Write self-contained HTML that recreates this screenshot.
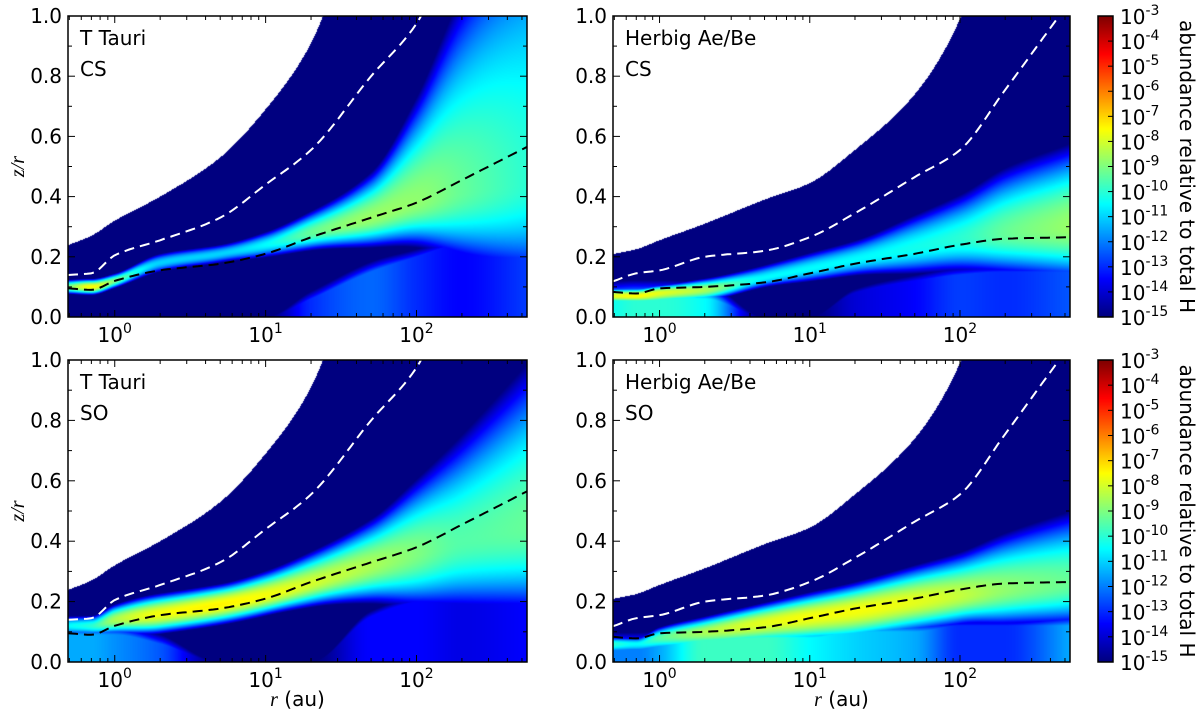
<!DOCTYPE html>
<html><head><meta charset="utf-8"><style>
body{margin:0;background:#fff;width:1200px;height:719px;overflow:hidden;position:relative;font-family:"DejaVu Sans","Liberation Sans",sans-serif}
canvas{position:absolute}
svg{position:absolute;left:0;top:0}
</style></head><body>
<canvas id="c0" width="459" height="301" style="left:68px;top:16px"></canvas>
<canvas id="c1" width="457" height="301" style="left:613px;top:16px"></canvas>
<canvas id="c2" width="459" height="302" style="left:68px;top:360px"></canvas>
<canvas id="c3" width="457" height="302" style="left:613px;top:360px"></canvas>
<canvas id="cb0" width="15" height="301" style="left:1098px;top:16px"></canvas>
<canvas id="cb1" width="15" height="302" style="left:1098px;top:360px"></canvas>
<svg id="ov" width="1200" height="719"></svg>
<script>
// radial nodes (au)
const rNodes=[0.5,0.7,1,2,5,10,20,50,100,200,540];
// white (no-data) boundary z/r
const ttEdge=[0.24,0.27,0.32,0.40,0.53,0.69,0.91,1.5,2,2,2];
const hEdge=[0.21,0.225,0.255,0.31,0.39,0.445,0.555,0.74,0.99,1.5,2];
// dashed contours
const ttWhite=[0.14,0.145,0.205,0.255,0.33,0.44,0.555,0.80,0.975,1.3,1.6];
const hWhite=[0.12,0.145,0.155,0.20,0.22,0.265,0.345,0.465,0.555,0.755,1.05];
const ttBlack=[0.095,0.09,0.12,0.155,0.177,0.21,0.265,0.33,0.38,0.455,0.565];
const hBlack=[0.083,0.078,0.095,0.10,0.115,0.145,0.177,0.21,0.24,0.26,0.265];
// T Tauri CS abundance band (log10)
const ttcsCenter=[0.10,0.10,0.12,0.18,0.21,0.24,0.28,0.33,0.38,0.42,0.45];
const ttcsWUp=[0.02,0.02,0.02,0.03,0.03,0.04,0.06,0.12,0.28,0.55,0.9];
const ttcsWDn=[0.02,0.02,0.02,0.03,0.03,0.04,0.05,0.08,0.12,0.2,0.3];
const ttcsPeak=[-9,-7.5,-9,-11,-11,-10.5,-9.3,-8.7,-8.8,-9.3,-10];
const ttcsLow=[-15,-15,-15,-15,-15,-15,-13,-12.3,-13,-13.5,-12.8];
const ttcsLowTop=[0,0,0,0,0,0,0.06,0.15,0.2,0.25,0.3];
// Herbig CS
const hcsCenter=[0.07,0.07,0.08,0.09,0.13,0.16,0.19,0.23,0.26,0.28,0.30];
const hcsWUp=[0.02,0.02,0.02,0.03,0.04,0.05,0.06,0.1,0.13,0.18,0.22];
const hcsWDn=[0.02,0.02,0.03,0.03,0.03,0.04,0.05,0.08,0.1,0.12,0.15];
const hcsPeak=[-7.8,-7.5,-7.8,-8.5,-10.5,-10.5,-10.5,-10.3,-10,-9.3,-8.7];
const hcsLow=[-10.3,-10,-10,-10.5,-15,-15,-14,-13.5,-12.8,-13,-12.5];
const hcsLowTop=[0.06,0.06,0.06,0.06,0,0,0.08,0.12,0.14,0.15,0.15];
// T Tauri SO
const ttsoCenter=[0.12,0.12,0.14,0.16,0.19,0.22,0.26,0.32,0.36,0.40,0.45];
const ttsoWUp=[0.03,0.03,0.04,0.05,0.05,0.06,0.08,0.12,0.2,0.3,0.45];
const ttsoWDn=[0.03,0.03,0.04,0.05,0.05,0.05,0.06,0.1,0.15,0.2,0.25];
const ttsoPeak=[-10.5,-10,-8.5,-7.6,-7.4,-7.6,-8,-8.5,-9,-9.5,-9.3];
const ttsoLow=[-11.5,-11.5,-11.8,-12.5,-15,-15,-15,-13.5,-13.5,-13.8,-13.5];
const ttsoLowTop=[0.09,0.09,0.09,0.06,0,0,0,0.15,0.2,0.22,0.25];
// Herbig SO
const hsoCenter=[0.06,0.06,0.08,0.10,0.13,0.15,0.17,0.20,0.22,0.24,0.26];
const hsoWUp=[0.02,0.02,0.03,0.04,0.05,0.06,0.07,0.09,0.11,0.15,0.2];
const hsoWDn=[0.03,0.03,0.04,0.05,0.06,0.07,0.08,0.08,0.08,0.1,0.12];
const hsoPeak=[-10,-10.5,-9.5,-8.5,-7.8,-7.6,-7.6,-7.8,-8.2,-8.8,-9.3];
const hsoLow=[-12,-12,-11.5,-9.8,-9.8,-10.5,-11,-11.5,-13,-13,-11.5];
const hsoLowTop=[0.06,0.06,0.06,0.07,0.08,0.08,0.1,0.1,0.12,0.12,0.12];
// colorbar exponents
const cbTicks=[-3,-4,-5,-6,-7,-8,-9,-10,-11,-12,-13,-14,-15];
const yTicks=[0,0.2,0.4,0.6,0.8,1.0];
const xTicks=[0,1,2];

const RMIN=0.49,RMAX=540,VMIN=-15,VMAX=-3;
const panels=[
 {id:'c0',x:68,y:16,w:459,h:301,edge:ttEdge,wl:ttWhite,bl:ttBlack,c:ttcsCenter,wu:ttcsWUp,wd:ttcsWDn,p:ttcsPeak,lo:ttcsLow,lt:ttcsLowTop,star:'T Tauri',mol:'CS',yl:true,xl:false,name:'ttauri-cs'},
 {id:'c1',x:613,y:16,w:457,h:301,edge:hEdge,wl:hWhite,bl:hBlack,c:hcsCenter,wu:hcsWUp,wd:hcsWDn,p:hcsPeak,lo:hcsLow,lt:hcsLowTop,star:'Herbig Ae/Be',mol:'CS',yl:false,xl:false,name:'herbig-cs'},
 {id:'c2',x:68,y:360,w:459,h:302,edge:ttEdge,wl:ttWhite,bl:ttBlack,c:ttsoCenter,wu:ttsoWUp,wd:ttsoWDn,p:ttsoPeak,lo:ttsoLow,lt:ttsoLowTop,star:'T Tauri',mol:'SO',yl:true,xl:true,name:'ttauri-so'},
 {id:'c3',x:613,y:360,w:457,h:302,edge:hEdge,wl:hWhite,bl:hBlack,c:hsoCenter,wu:hsoWUp,wd:hsoWDn,p:hsoPeak,lo:hsoLow,lt:hsoLowTop,star:'Herbig Ae/Be',mol:'SO',yl:false,xl:true,name:'herbig-so'}
];
const L0=Math.log10(RMIN),L1=Math.log10(RMAX);
const lN=rNodes.map(r=>Math.log10(r));
// monotone cubic (PCHIP) interpolation in log r
function slopes(arr){
  const n=arr.length,d=[],m=new Array(n);
  for(let i=0;i<n-1;i++)d.push((arr[i+1]-arr[i])/(lN[i+1]-lN[i]));
  m[0]=d[0];m[n-1]=d[n-2];
  for(let i=1;i<n-1;i++){ if(d[i-1]*d[i]<=0)m[i]=0; else { const w1=2*(lN[i+1]-lN[i])+(lN[i]-lN[i-1]),w2=(lN[i+1]-lN[i])+2*(lN[i]-lN[i-1]); m[i]=(w1+w2)/(w1/d[i-1]+w2/d[i]); } }
  return m;
}
const slopeCache=new Map();
function interp(arr,lr){
  let m=slopeCache.get(arr); if(!m){m=slopes(arr);slopeCache.set(arr,m);}
  if(lr<=lN[0])return arr[0]+m[0]*(lr-lN[0]);
  const n=lN.length;
  if(lr>=lN[n-1])return arr[n-1]+m[n-1]*(lr-lN[n-1]);
  let i=1;while(lr>lN[i])i++;
  const h=lN[i]-lN[i-1],t=(lr-lN[i-1])/h,t2=t*t,t3=t2*t;
  return (2*t3-3*t2+1)*arr[i-1]+(t3-2*t2+t)*h*m[i-1]+(-2*t3+3*t2)*arr[i]+(t3-t2)*h*m[i];
}
function jet(t){t=Math.max(0,Math.min(1,t));const cl=v=>Math.max(0,Math.min(1,v));
 return [cl(1.5-Math.abs(4*t-3))*255,cl(1.5-Math.abs(4*t-2))*255,cl(1.5-Math.abs(4*t-1))*255];}
function xScale(P,r){return P.x+(Math.log10(r)-L0)/(L1-L0)*P.w;}
function yScale(P,z){return P.y+P.h-z*P.h;}

panels.forEach(P=>{
  const cv=document.getElementById(P.id),ctx=cv.getContext('2d');
  const img=ctx.createImageData(P.w,P.h);
  for(let i=0;i<P.w;i++){
    const lr=L0+(i+0.5)/P.w*(L1-L0);
    const e=interp(P.edge,lr),c=interp(P.c,lr),wu=Math.max(0.01,interp(P.wu,lr)),wd=Math.max(0.01,interp(P.wd,lr)),pk=interp(P.p,lr),lo=interp(P.lo,lr),lt=interp(P.lt,lr);
    for(let j=0;j<P.h;j++){
      const z=1-(j+0.5)/P.h;const k=(j*P.w+i)*4;
      if(z>e){img.data[k]=img.data[k+1]=img.data[k+2]=255;img.data[k+3]=255;continue;}
      const d=z-c;const band=pk-4*Math.pow(d/(d>0?wu:wd),2);
      const low=z<lt?lo:lo-(z-lt)*80;
      const v=Math.max(band,low,VMIN);
      const col=jet((v-VMIN)/(VMAX-VMIN));
      img.data[k]=col[0];img.data[k+1]=col[1];img.data[k+2]=col[2];img.data[k+3]=255;
    }
  }
  ctx.putImageData(img,0,0);
});
['cb0','cb1'].forEach(id=>{
  const cv=document.getElementById(id),ctx=cv.getContext('2d');
  for(let j=0;j<cv.height;j++){const c=jet(1-j/(cv.height-1));ctx.fillStyle=`rgb(${c[0]|0},${c[1]|0},${c[2]|0})`;ctx.fillRect(0,j,cv.width,1);}
});

const NS='http://www.w3.org/2000/svg';
const svg=document.getElementById('ov');
function mk(tag,attrs,parent){const e=document.createElementNS(NS,tag);for(const k in attrs)e.setAttribute(k,attrs[k]);(parent||svg).appendChild(e);return e;}
function powText(x,y,exp,anchor,parent){
  const t=mk('text',{x:x,y:y,'font-size':20,'text-anchor':anchor,fill:'#000'},parent);
  t.appendChild(document.createTextNode('10'));
  const s=mk('tspan',{dy:-9,'font-size':14},t);s.textContent=String(exp);
  return t;
}
const defs=mk('defs',{});
panels.forEach((P,pi)=>{
  const g=mk('g',{});
  
  
  const cp=mk('clipPath',{id:'cp'+pi},defs);mk('rect',{x:P.x,y:P.y,width:P.w,height:P.h},cp);
  [[P.wl,'#fff','white-dashed-contour'],[P.bl,'#000','black-dashed-contour']].forEach(([arr,col,nm])=>{
    let d='';
    for(let i=0;i<=120;i++){const lr=L0+i/120*(L1-L0);const r=Math.pow(10,lr);
      d+=(i?'L':'M')+xScale(P,r).toFixed(1)+','+yScale(P,interp(arr,lr)).toFixed(1);}
    const pa=mk('path',{d:d,fill:'none',stroke:col,'stroke-width':2,'stroke-dasharray':'10,6','clip-path':'url(#cp'+pi+')'},g);
    
    
  });
  const fr=mk('rect',{x:P.x,y:P.y,width:P.w,height:P.h,fill:'none',stroke:'#000','stroke-width':1.5},g);
  
  
  for(let k=0;k<=10;k++){const z=k/10,y=yScale(P,z),len=(k%2==0)?7:4;
    mk('line',{x1:P.x,x2:P.x+len,y1:y,y2:y,stroke:'#000'},g);
    mk('line',{x1:P.x+P.w,x2:P.x+P.w-len,y1:y,y2:y,stroke:'#000'},g);}
  yTicks.forEach(v=>{const t=mk('text',{x:P.x-6,y:yScale(P,v)+7,'font-size':20,'text-anchor':'end'},g);t.textContent=v.toFixed(1);
    
    });
  for(let dec=-1;dec<=2;dec++)for(let m=1;m<10;m++){const r=m*Math.pow(10,dec);if(r<RMIN||r>RMAX)continue;
    const x=xScale(P,r),len=m==1?7:4;
    mk('line',{x1:x,x2:x,y1:P.y+P.h,y2:P.y+P.h-len,stroke:'#000'},g);
    mk('line',{x1:x,x2:x,y1:P.y,y2:P.y+len,stroke:'#000'},g);}
  xTicks.forEach(e=>{const t=powText(xScale(P,Math.pow(10,e)),P.y+P.h+25,e,'middle',g);
    
    });
  const a=mk('text',{x:P.x+12,y:P.y+29,'font-size':20},g);a.textContent=P.star;
  
  
  const b=mk('text',{x:P.x+12,y:P.y+60,'font-size':20},g);b.textContent=P.mol;
  
  
  if(P.yl){const t=mk('text',{x:0,y:0,'font-size':20,'font-family':'Liberation Serif,serif','font-style':'italic','text-anchor':'middle',transform:`translate(24,${P.y+P.h/2}) rotate(-90)`},g);
    t.textContent='z/r';
    
    }
  if(P.xl){const t=mk('text',{x:P.x+P.w/2,y:706,'font-size':20,'text-anchor':'middle'},g);
    const i=mk('tspan',{'font-family':'Liberation Serif,serif','font-style':'italic'},t);i.textContent='r';
    t.appendChild(document.createTextNode(' (au)'));
    
    }
});
[[16,301],[360,302]].forEach(([y0,h],ci)=>{
  const g=mk('g',{});
  
  
  mk('rect',{x:1098,y:y0,width:15,height:h,fill:'none',stroke:'#000','stroke-width':1.5},g);
  cbTicks.forEach((e,i)=>{const y=y0+i/(cbTicks.length-1)*h;
    mk('line',{x1:1113,x2:1108,y1:y,y2:y,stroke:'#000'},g);
    const t=powText(1120,y+8,e,'start',g);
    
    });
  const t=mk('text',{x:0,y:0,'font-size':20,'text-anchor':'middle',transform:`translate(1180,${y0+h/2}) rotate(90)`},g);
  t.textContent='abundance relative to total H';
  
  
});
</script>
</body></html>
